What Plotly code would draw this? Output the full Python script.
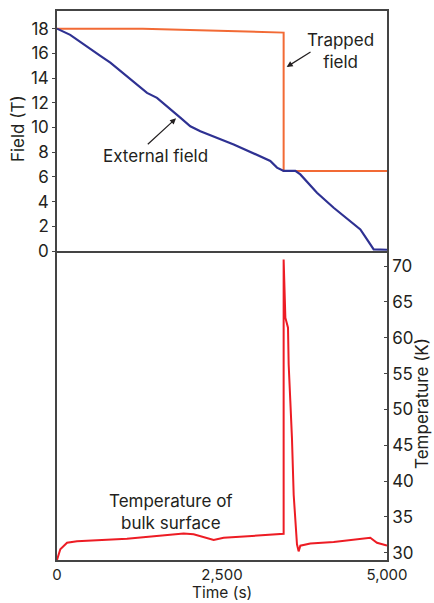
import plotly.graph_objects as go

# ---- data ----
ext_time = [0, 200, 657, 808, 1364, 1515, 1868, 2020, 2172, 2677, 3232, 3333, 3434, 3611, 3687, 3939, 4192, 4596, 4697, 4798, 5000]
ext_field = [18.0, 17.5, 15.8, 15.25, 12.8, 12.4, 10.8, 10.1, 9.7, 8.63, 7.29, 6.75, 6.48, 6.48, 6.2, 4.72, 3.5, 1.75, 0.94, 0.13, 0.1]

trap_time = [0, 1300, 3434, 3434, 5000]
trap_field = [18.0, 18.0, 17.68, 6.48, 6.48]

temp_time = [0, 50, 152, 303, 1060, 1919, 2070, 2374, 2525, 3434, 3434, 3460, 3500, 3510, 3535, 3560, 3586, 3611, 3636, 3661, 3687, 3838, 4192, 4747, 4848, 5000]
temp_vals = [29.0, 30.5, 31.4, 31.6, 31.95, 32.7, 32.6, 31.8, 32.1, 32.65, 70.9, 62.8, 61.4, 56.3, 51.2, 46.0, 38.1, 34.4, 31.2, 30.2, 31.0, 31.3, 31.5, 32.1, 31.4, 31.0]

field_ticks = [0, 2, 4, 6, 8, 10, 12, 14, 16, 18]
temp_ticks = [30, 35, 40, 45, 50, 55, 60, 65, 70]
time_ticks = [0, 2500, 5000]
time_labels = ["0", "2,500", "5,000"]

FONT = "Inter, Liberation Sans, Arial, sans-serif"
TXT = "#231f20"
AX = "#444444"
FS = 17

fig = go.Figure()
fig.add_trace(go.Scatter(x=trap_time, y=trap_field, mode="lines", xaxis="x2", yaxis="y",
                         line=dict(color="#f26a35", width=2), hoverinfo="skip"))
fig.add_trace(go.Scatter(x=ext_time, y=ext_field, mode="lines", xaxis="x2", yaxis="y",
                         line=dict(color="#2e3192", width=2.2), hoverinfo="skip"))
fig.add_trace(go.Scatter(x=temp_time, y=temp_vals, mode="lines", xaxis="x", yaxis="y2",
                         line=dict(color="#ed1c24", width=2), hoverinfo="skip"))

split = 309 / 549

fig.update_layout(
    width=434, height=603,
    margin=dict(l=57, r=47, t=11, b=43),
    paper_bgcolor="white", plot_bgcolor="white",
    showlegend=False,
    font=dict(family=FONT, size=FS, color=TXT),
    xaxis=dict(range=[0, 5000], anchor="y2", showline=True, linecolor=AX, linewidth=1.5,
               showgrid=False, zeroline=False, tickvals=time_ticks, ticktext=time_labels,
               ticks="", ticklen=0, automargin=False, tickfont=dict(size=15)),
    xaxis2=dict(range=[0, 5000], anchor="y", matches="x", showline=True, mirror=True,
                linecolor=AX, linewidth=1.5, showgrid=False, zeroline=False,
                showticklabels=False, ticks="", automargin=False),
    yaxis=dict(domain=[split, 1], range=[0, 19.43], showline=True, mirror=True,
               linecolor=AX, linewidth=1.5, showgrid=False, zeroline=False,
               tickvals=field_ticks, ticks="outside", ticklen=3, tickcolor=AX,
               automargin=False),
    yaxis2=dict(domain=[0, split], range=[29, 72.1], side="right", anchor="x",
                showline=True, mirror=True, linecolor=AX, linewidth=1.5,
                showgrid=False, zeroline=False, tickvals=temp_ticks,
                ticks="inside", ticklen=3, tickcolor=AX, automargin=False),
)

ann_font = dict(family=FONT, size=FS, color=TXT)
# axis titles (positions in plot-area fractions)
fig.add_annotation(x=-0.118, y=0.785, xref="paper", yref="paper", text="Field (T)",
                   textangle=-90, showarrow=False, font=ann_font,
                   xanchor="center", yanchor="middle")
fig.add_annotation(x=1.106, y=0.286, xref="paper", yref="paper", text="Temperature (K)",
                   textangle=-90, showarrow=False, font=ann_font,
                   xanchor="center", yanchor="middle")
fig.add_annotation(x=0.5, y=-0.0783, xref="paper", yref="paper", text="Time (s)",
                   showarrow=False, font=dict(family=FONT, size=15.5, color=TXT),
                   xanchor="center", yanchor="bottom", borderpad=0)

fig.add_annotation(x=1490, y=7.7, xref="x2", yref="y", text="External field",
                   showarrow=False, font=ann_font)
fig.add_annotation(x=1804, y=10.74, ax=1353, ay=8.53, xref="x2", yref="y",
                   axref="x2", ayref="y", text="", showarrow=True,
                   arrowhead=2, arrowsize=1, arrowwidth=1.2, arrowcolor=TXT)
fig.add_annotation(x=4300, y=16.23, xref="x2", yref="y", text="Trapped<br>field",
                   showarrow=False, font=ann_font)
fig.add_annotation(x=3480, y=14.9, ax=3864, ay=16.19, xref="x2", yref="y",
                   axref="x2", ayref="y", text="", showarrow=True,
                   arrowhead=2, arrowsize=1, arrowwidth=1.2, arrowcolor=TXT)
fig.add_annotation(x=1729, y=35.7, xref="x", yref="y2", text="Temperature of<br>bulk surface",
                   showarrow=False, font=ann_font)

fig.write_html("out.html", post_script="document.body.style.margin='0px';",
               config={"displayModeBar": False})
